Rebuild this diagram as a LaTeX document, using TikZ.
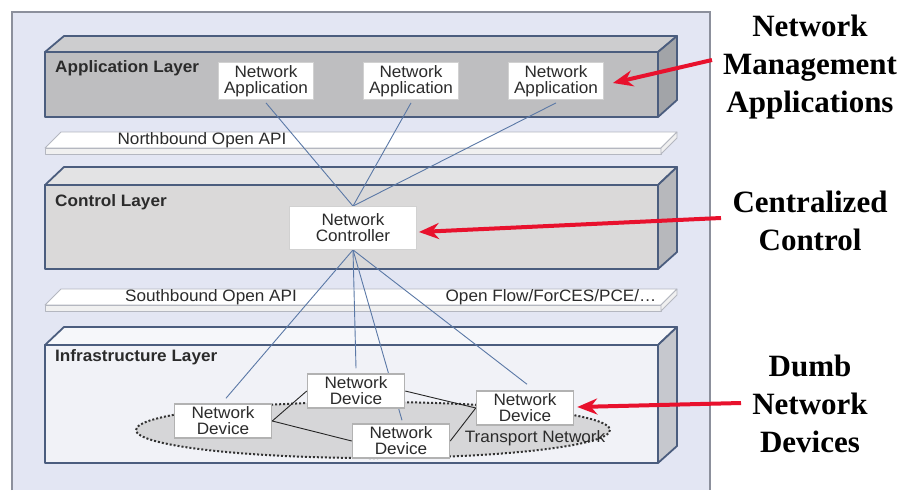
\documentclass[tikz,border=0pt]{standalone}
\usepackage{fontspec}
\setmainfont{Liberation Sans}[FakeStretch=1.04]
\newfontfamily\tnrbold{Liberation Serif}[BoldFont=*-Bold]
\usetikzlibrary{arrows.meta}
\definecolor{framebg}{HTML}{E3E6F3}
\definecolor{frameln}{HTML}{8C909C}
\definecolor{layerln}{HTML}{4B5D7E}
\definecolor{appfront}{HTML}{BEBEC0}
\definecolor{apptop}{HTML}{CDCDCF}
\definecolor{appside}{HTML}{A2A4A8}
\definecolor{ctlfront}{HTML}{DAD9D9}
\definecolor{ctltop}{HTML}{E3E3E4}
\definecolor{ctlside}{HTML}{B7B8BC}
\definecolor{inffront}{HTML}{F1F2F7}
\definecolor{inftop}{HTML}{F6F7FA}
\definecolor{infside}{HTML}{C6C8CE}
\definecolor{barln}{HTML}{B4B7C0}
\definecolor{bluel}{HTML}{5A78A6}
\definecolor{txt}{HTML}{2B2B2B}
\definecolor{redarr}{HTML}{E8112D}
\definecolor{ellfill}{HTML}{D6D6D8}
\tikzset{
  layerbox/.style={draw=layerln, line width=1.8pt, line join=round},
  barbox/.style={draw=barln, line width=0.8pt, fill=white, line join=round},
  lbl/.style={font=\fontsize{16.5}{16}\selectfont\bfseries, text=txt, anchor=west, inner sep=0pt},
  plain/.style={font=\fontsize{16.5}{16}\selectfont, text=txt, inner sep=0pt},
  appbox/.style={draw=black!18, line width=0.8pt, fill=white, align=center,
    font=\fontsize{16.5}{16}\selectfont, text=txt, minimum width=95pt, minimum height=37pt, inner sep=1pt},
  ctlbox/.style={appbox, minimum width=127pt, minimum height=43pt},
  devbox/.style={draw=black!30, line width=1.5pt, fill=white, align=center,
    font=\fontsize{16.5}{16}\selectfont, text=txt, minimum width=97pt, minimum height=34pt, inner sep=1pt},
  blueline/.style={draw=bluel, line width=0.9pt},
  meshline/.style={draw=black!85, line width=0.9pt},
  redarrow/.style={draw=redarr, line width=4pt, -{Stealth[length=20pt,width=16pt]}},
  biglbl/.style={font=\fontsize{31}{38}\selectfont\tnrbold\bfseries, align=center, text=black, inner sep=0pt}
}
\begin{document}
\begin{tikzpicture}[x=1pt,y=-1pt]
\useasboundingbox (0,0) rectangle (902,490);
\fill[white] (0,0) rectangle (902,490);
% outer frame
\fill[framebg] (12,490) -- (12,12) -- (710,12) -- (710,490) -- cycle;
\draw[frameln, line width=1.2pt] (12,490) -- (12,12) -- (710,12) -- (710,490);

% Application layer
\filldraw[layerbox, fill=apptop] (45,52) -- (64,36) -- (677,36) -- (658,52) -- cycle;
\filldraw[layerbox, fill=appside] (658,52) -- (677,36) -- (677,100) -- (658,117) -- cycle;
\filldraw[layerbox, fill=appfront] (45,52) rectangle (658,117);
\node[lbl] (applbl) at (55,68) {Application Layer};

% Northbound bar
\filldraw[barbox] (45,148) -- (61,132) -- (677,132) -- (661,148) -- cycle;
\filldraw[barbox, fill=black!6] (45,148) rectangle (661,154);
\filldraw[barbox, fill=black!6] (661,148) -- (677,132) -- (677,138) -- (661,154) -- cycle;
\node[plain] (nb) at (202,140) {Northbound Open API};

% Control layer
\filldraw[layerbox, fill=ctltop] (45,185) -- (64,167) -- (677,167) -- (658,185) -- cycle;
\filldraw[layerbox, fill=ctlside] (658,185) -- (677,167) -- (677,252) -- (658,269) -- cycle;
\filldraw[layerbox, fill=ctlfront] (45,185) rectangle (658,269);
\node[lbl] (ctllbl) at (55,202) {Control Layer};

% Southbound bar
\filldraw[barbox] (45,305) -- (61,289) -- (677,289) -- (661,305) -- cycle;
\filldraw[barbox, fill=black!6] (45,305) rectangle (661,311);
\filldraw[barbox, fill=black!6] (661,305) -- (677,289) -- (677,295) -- (661,311) -- cycle;
\node[plain] (sb) at (211,297) {Southbound Open API};
\node[plain] (sbp) at (551,297) {Open Flow/ForCES/PCE/\dots};

% Infrastructure layer
\filldraw[layerbox, fill=inftop] (45,345) -- (64,327) -- (677,327) -- (658,345) -- cycle;
\filldraw[layerbox, fill=infside] (658,345) -- (677,327) -- (677,446) -- (658,463) -- cycle;
\filldraw[layerbox, fill=inffront] (45,345) rectangle (658,463);
\node[lbl] (inflbl) at (55,357) {Infrastructure Layer};

% transport network ellipse
\filldraw[fill=ellfill, draw=black!80, line width=2pt, dotted] (373,430) ellipse [x radius=237, y radius=28];
\node[plain] (tn) at (535,438) {Transport Network};

% nodes (positions)
\node[appbox] (app1) at (266,81) {Network\\Application};
\node[appbox] (app2) at (411,81) {Network\\Application};
\node[appbox] (app3) at (556,81) {Network\\Application};
\node[ctlbox] (ctl) at (353,228) {Network\\Controller};
\node[devbox] (d1) at (223,421) {Network\\Device};
\node[devbox] (d2) at (356,391) {Network\\Device};
\node[devbox] (d3) at (401,441) {Network\\Device};
\node[devbox] (d4) at (525,408) {Network\\Device};

% mesh links
\draw[meshline] (d1.east) -- (d2.west);
\draw[meshline] (d1.east) -- (d3.west);
\draw[meshline] (d2.east) -- (d4.west);
\draw[meshline] (d3.east) -- (d4.west);

% control links
\draw[blueline] (ctl.north) -- ([yshift=-3pt]app1.south);
\draw[blueline] (ctl.north) -- ([yshift=-3pt]app2.south);
\draw[blueline] (ctl.north) -- ([yshift=-3pt]app3.south);
\draw[blueline] (ctl.south) -- ([xshift=3pt,yshift=5pt]d1.north);
\draw[blueline] (ctl.south) -- ([yshift=5pt]d2.north);
\draw[blueline] (ctl.south) -- ([xshift=1pt,yshift=3pt]d3.north);
\draw[blueline] (ctl.south) -- ([xshift=2pt,yshift=6pt]d4.north);

% redraw boxes on top of lines
\node[appbox] at (app1) {Network\\Application};
\node[appbox] at (app2) {Network\\Application};
\node[appbox] at (app3) {Network\\Application};
\node[ctlbox] at (ctl) {Network\\Controller};
\node[devbox] at (d1) {Network\\Device};
\node[devbox] at (d2) {Network\\Device};
\node[devbox] at (d3) {Network\\Device};
\node[devbox] at (d4) {Network\\Device};

% right labels
\node[biglbl] (lab1) at (810,67) {Network\\Management\\Applications};
\node[biglbl] (lab2) at (810,221) {Centralized\\Control};
\node[biglbl] (lab3) at (810,404) {Dumb\\Network\\Devices};

% red arrows
\coordinate (t1) at (712,60);
\coordinate (t2) at (721,218);
\coordinate (t3) at (741,403);
\draw[redarrow] (t1) -- ([xshift=9pt,yshift=-2pt]app3.east);
\draw[redarrow] (t2) -- ([xshift=2pt,yshift=-4pt]ctl.east);
\draw[redarrow] (t3) -- ([xshift=3pt,yshift=1pt]d4.east);
\end{tikzpicture}
\end{document}
